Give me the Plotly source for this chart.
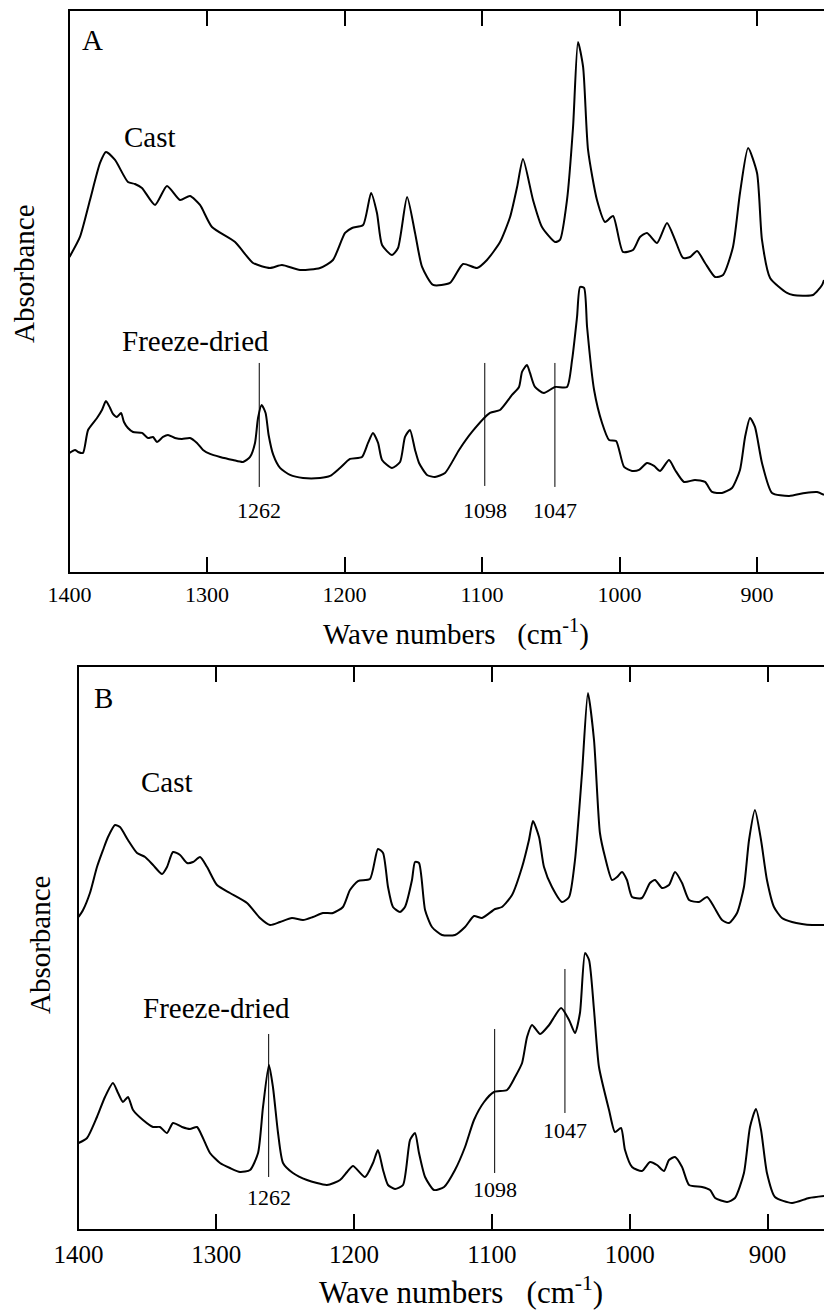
import plotly.graph_objects as go

# ---------------- Panel A data (wavenumber cm-1, absorbance a.u.) ----------------
a_cast_wn = [1400.0, 1392.4, 1385.1, 1377.8, 1373.5, 1366.9, 1357.5, 1352.4, 1347.3, 1337.8,
             1329.1, 1319.6, 1312.4, 1305.1, 1296.4, 1279.6, 1266.5, 1254.2, 1245.5, 1232.4,
             1217.8, 1208.4, 1199.6, 1194.5, 1186.5, 1180.7, 1176.4, 1172.7, 1165.5, 1161.1,
             1154.5, 1148.7, 1143.6, 1135.6, 1123.3, 1113.8, 1103.6, 1096.4, 1086.9, 1079.6,
             1074.5, 1070.2, 1062.9, 1056.4, 1046.9, 1043.3, 1038.2, 1033.8, 1030.2, 1026.5,
             1022.9, 1016.4, 1010.5, 1004.7, 997.5, 990.2, 985.1, 980.0, 972.7, 965.5,
             959.6, 953.8, 948.7, 943.6, 937.8, 930.5, 924.7, 917.5, 912.4, 906.5,
             900.0, 896.4, 890.5, 878.2, 873.8, 859.3, 852.7, 851.3]
a_cast_abs = [3.15, 3.35, 3.72, 4.09, 4.20, 4.12, 3.90, 3.88, 3.84, 3.67,
              3.86, 3.72, 3.76, 3.67, 3.45, 3.30, 3.09, 3.04, 3.07, 3.02,
              3.04, 3.12, 3.39, 3.44, 3.47, 3.79, 3.59, 3.27, 3.17, 3.24,
              3.75, 3.39, 3.05, 2.87, 2.89, 3.08, 3.04, 3.12, 3.30, 3.55,
              3.85, 4.13, 3.72, 3.45, 3.30, 3.32, 3.72, 4.45, 5.30, 5.05,
              4.22, 3.72, 3.50, 3.56, 3.20, 3.22, 3.35, 3.39, 3.29, 3.49,
              3.32, 3.14, 3.15, 3.21, 3.09, 2.95, 2.97, 3.25, 3.79, 4.24,
              3.99, 3.32, 2.94, 2.79, 2.77, 2.77, 2.87, 2.92]

a_fd_wn = [1400.0, 1396.0, 1393.8, 1390.2, 1386.5, 1380.0, 1376.4, 1373.5, 1370.5, 1368.4,
           1365.5, 1362.5, 1360.4, 1357.5, 1353.8, 1347.3, 1342.9, 1339.3, 1336.4, 1332.0,
           1328.4, 1323.3, 1318.2, 1312.4, 1307.3, 1302.9, 1297.8, 1290.5, 1281.1, 1273.8,
           1268.7, 1265.1, 1262.9, 1260.3, 1257.4, 1255.2, 1251.8, 1246.9, 1239.6, 1230.2,
           1217.8, 1210.5, 1203.3, 1196.0, 1187.3, 1182.9, 1179.3, 1175.6, 1172.7, 1165.5,
           1159.6, 1156.0, 1152.4, 1148.7, 1145.8, 1140.0, 1134.2, 1126.9, 1116.7, 1107.3,
           1094.2, 1086.9, 1078.2, 1073.1, 1070.9, 1067.3, 1065.1, 1061.5, 1055.0, 1046.9,
           1038.2, 1034.5, 1030.9, 1028.7, 1025.8, 1023.6, 1018.5, 1012.7, 1007.6, 1002.5,
           996.7, 990.9, 985.8, 980.0, 974.9, 970.5, 964.0, 959.6, 953.1, 945.1,
           937.8, 932.7, 925.5, 918.2, 912.4, 908.7, 905.1, 901.5, 896.4, 889.1,
           876.7, 865.1, 856.4, 851.3]
a_fd_abs = [1.19, 1.22, 1.20, 1.19, 1.42, 1.54, 1.62, 1.71, 1.64, 1.58,
            1.55, 1.59, 1.50, 1.44, 1.40, 1.39, 1.34, 1.35, 1.30, 1.35,
            1.37, 1.34, 1.33, 1.34, 1.29, 1.22, 1.18, 1.15, 1.12, 1.10,
            1.15, 1.29, 1.54, 1.67, 1.59, 1.37, 1.17, 1.04, 0.97, 0.94,
            0.94, 0.96, 1.04, 1.13, 1.15, 1.29, 1.39, 1.29, 1.12, 1.04,
            1.10, 1.35, 1.42, 1.22, 1.09, 0.97, 0.95, 0.99, 1.22, 1.40,
            1.59, 1.62, 1.77, 1.85, 2.00, 2.07, 1.99, 1.85, 1.79, 1.85,
            1.85, 2.12, 2.55, 2.85, 2.84, 2.45, 1.82, 1.49, 1.32, 1.31,
            1.05, 1.01, 1.02, 1.09, 1.06, 1.01, 1.12, 1.02, 0.90, 0.92,
            0.90, 0.80, 0.79, 0.84, 1.02, 1.35, 1.54, 1.45, 1.09, 0.79,
            0.76, 0.79, 0.80, 0.77]

# ---------------- Panel B data ----------------
b_cast_wn = [1400.0, 1396.7, 1391.7, 1386.6, 1382.2, 1378.6, 1373.5, 1369.9, 1364.1, 1357.5,
             1351.7, 1345.9, 1339.4, 1335.8, 1331.4, 1326.3, 1321.2, 1316.9, 1311.8, 1306.7,
             1299.5, 1290.1, 1277.7, 1268.3, 1261.0, 1253.8, 1245.1, 1237.1, 1229.9, 1222.6,
             1215.3, 1208.1, 1203.0, 1197.2, 1188.5, 1182.7, 1179.0, 1175.4, 1171.8, 1166.7,
             1163.1, 1158.0, 1155.8, 1152.9, 1148.5, 1143.5, 1136.2, 1126.8, 1119.5, 1113.0,
             1107.2, 1097.7, 1092.7, 1085.4, 1078.1, 1073.1, 1070.2, 1065.8, 1062.2, 1056.4,
             1049.1, 1044.0, 1039.7, 1034.6, 1030.3, 1025.9, 1021.6, 1017.9, 1012.8, 1009.2,
             1005.6, 1002.0, 998.3, 991.1, 985.3, 981.6, 976.5, 971.5, 967.1, 962.0,
             956.9, 949.7, 943.8, 938.8, 933.0, 927.9, 922.1, 917.1, 913.4, 909.1,
             904.7, 900.4, 895.3, 889.5, 882.2, 875.0, 867.7, 859.0]
b_cast_abs = [3.12, 3.19, 3.36, 3.62, 3.79, 3.92, 4.04, 4.02, 3.89, 3.76,
              3.72, 3.64, 3.55, 3.62, 3.77, 3.74, 3.66, 3.67, 3.72, 3.62,
              3.44, 3.36, 3.26, 3.11, 3.04, 3.07, 3.11, 3.09, 3.12, 3.16,
              3.16, 3.22, 3.39, 3.48, 3.50, 3.80, 3.76, 3.42, 3.22, 3.17,
              3.22, 3.49, 3.67, 3.66, 3.19, 3.02, 2.94, 2.94, 3.02, 3.13,
              3.11, 3.20, 3.22, 3.34, 3.62, 3.89, 4.08, 3.92, 3.62, 3.42,
              3.27, 3.32, 3.69, 4.56, 5.36, 4.89, 3.96, 3.72, 3.49, 3.52,
              3.57, 3.49, 3.32, 3.31, 3.46, 3.49, 3.41, 3.44, 3.57, 3.46,
              3.29, 3.27, 3.32, 3.22, 3.09, 3.06, 3.16, 3.42, 3.89, 4.19,
              3.89, 3.49, 3.22, 3.11, 3.07, 3.05, 3.04, 3.04]

b_fd_wn = [1400.0, 1393.8, 1386.6, 1380.8, 1375.0, 1371.3, 1367.7, 1364.1, 1360.4, 1353.2,
           1345.9, 1340.9, 1335.8, 1331.4, 1324.9, 1319.1, 1314.0, 1309.7, 1304.6, 1297.3,
           1290.1, 1282.8, 1275.5, 1269.7, 1266.1, 1261.8, 1258.9, 1255.2, 1251.6, 1244.4,
           1234.2, 1219.7, 1210.2, 1205.1, 1200.8, 1192.1, 1186.3, 1182.7, 1179.0, 1175.4,
           1170.3, 1164.5, 1159.4, 1155.8, 1152.9, 1148.5, 1142.0, 1134.7, 1126.8, 1119.5,
           1113.0, 1105.7, 1098.5, 1089.0, 1083.2, 1078.1, 1074.5, 1070.9, 1065.0, 1058.5,
           1049.8, 1044.0, 1039.7, 1036.1, 1032.4, 1029.5, 1025.9, 1022.3, 1015.0, 1010.7,
           1006.3, 1003.4, 998.3, 991.1, 985.3, 980.2, 975.1, 971.5, 967.1, 962.0,
           956.9, 947.5, 941.7, 938.0, 929.3, 923.6, 917.1, 912.7, 908.4, 904.7,
           900.4, 894.6, 882.2, 869.9, 859.0]
b_fd_abs = [0.86, 0.91, 1.12, 1.32, 1.46, 1.36, 1.27, 1.32, 1.19, 1.09,
            1.02, 1.02, 0.96, 1.06, 1.02, 1.00, 1.02, 0.91, 0.76, 0.66,
            0.61, 0.57, 0.59, 0.76, 1.22, 1.64, 1.42, 0.96, 0.66, 0.56,
            0.49, 0.44, 0.49, 0.57, 0.63, 0.52, 0.66, 0.79, 0.59, 0.44,
            0.40, 0.44, 0.89, 0.96, 0.76, 0.52, 0.39, 0.42, 0.59, 0.82,
            1.09, 1.27, 1.37, 1.39, 1.52, 1.66, 1.92, 2.04, 1.95, 2.04,
            2.21, 2.09, 1.96, 2.16, 2.76, 2.69, 2.19, 1.62, 1.19, 0.97,
            1.01, 0.79, 0.62, 0.58, 0.67, 0.64, 0.58, 0.69, 0.72, 0.62,
            0.44, 0.42, 0.39, 0.31, 0.27, 0.31, 0.56, 1.02, 1.20, 0.99,
            0.56, 0.32, 0.26, 0.31, 0.33]

# ---------------- Band markers ----------------
marker_wn = [1262, 1098, 1047]
marker_labels = ["1262", "1098", "1047"]
a_marker_low = [0.85, 0.86, 0.85]
a_marker_high = [2.09, 2.09, 2.09]
a_marker_label_y = [0.61, 0.61, 0.61]
b_marker_low = [0.52, 0.56, 1.16]
b_marker_high = [1.95, 2.00, 2.60]
b_marker_label_y = [0.31, 0.39, 0.98]

tick_vals = [1400, 1300, 1200, 1100, 1000, 900]
tick_text = ["1400", "1300", "1200", "1100", "1000", "900"]

FONT = "Liberation Serif, Times New Roman, serif"
INK = "black"

fig = go.Figure()

def add_curve(x, y, xa, ya):
    fig.add_trace(go.Scatter(x=x, y=y, mode="lines", xaxis=xa, yaxis=ya,
                             line=dict(color=INK, width=2, shape="spline", smoothing=0.6),
                             hoverinfo="skip", showlegend=False))

add_curve(a_cast_wn, a_cast_abs, "x", "y")
add_curve(a_fd_wn, a_fd_abs, "x", "y")
add_curve(b_cast_wn, b_cast_abs, "x2", "y2")
add_curve(b_fd_wn, b_fd_abs, "x2", "y2")

for wn, lo, hi in zip(marker_wn, a_marker_low, a_marker_high):
    fig.add_trace(go.Scatter(x=[wn, wn], y=[lo, hi], mode="lines", xaxis="x", yaxis="y",
                             line=dict(color=INK, width=1), hoverinfo="skip", showlegend=False))
for wn, lo, hi in zip(marker_wn, b_marker_low, b_marker_high):
    fig.add_trace(go.Scatter(x=[wn, wn], y=[lo, hi], mode="lines", xaxis="x2", yaxis="y2",
                             line=dict(color=INK, width=1), hoverinfo="skip", showlegend=False))

annotations = []

def label(x, y, xr, yr, text, size, angle=0):
    annotations.append(dict(x=x, y=y, xref=xr, yref=yr, text=text, showarrow=False,
                            xanchor="center", yanchor="middle", textangle=angle,
                            font=dict(family=FONT, size=size, color=INK)))

for wn, lab, ly in zip(marker_wn, marker_labels, a_marker_label_y):
    label(wn, ly, "x", "y", lab, 22)
for wn, lab, ly in zip(marker_wn, marker_labels, b_marker_label_y):
    label(wn, ly, "x2", "y2", lab, 22)

label(1383.6, 5.32, "x", "y", "A", 29)
label(1341.5, 4.35, "x", "y", "Cast", 29)
label(1308.7, 2.31, "x", "y", "Freeze-dried", 29)
label(1381.5, 5.31, "x2", "y2", "B", 29)
label(1335.8, 4.47, "x2", "y2", "Cast", 29)
label(1300.2, 2.21, "x2", "y2", "Freeze-dried", 29)
label(0.0291, 0.7921, "paper", "paper", "Absorbance", 29, -90)
label(0.0485, 0.2810, "paper", "paper", "Absorbance", 29, -90)
label(0.5534, 0.5180, "paper", "paper", "Wave numbers   (cm<sup>-1</sup>)", 29)
label(0.5595, 0.0175, "paper", "paper", "Wave numbers   (cm<sup>-1</sup>)", 31)

def xaxis_cfg(domain, rng, size):
    return dict(domain=domain, range=rng, tickmode="array", tickvals=tick_vals,
                ticktext=tick_text, ticks="inside", ticklen=15, tickwidth=1.5,
                tickcolor=INK, showline=True, linecolor=INK, linewidth=2,
                mirror="ticks", showgrid=False, zeroline=False, automargin=False,
                ticklabelstandoff=2,
                tickfont=dict(family=FONT, size=size, color=INK))

def yaxis_cfg(domain, rng, anchor):
    return dict(domain=domain, range=rng, anchor=anchor, showline=True, linecolor=INK,
                linewidth=2, mirror=False, showticklabels=False, ticks="",
                showgrid=False, zeroline=False, automargin=False)

fig.update_layout(
    width=824, height=1313,
    margin=dict(l=0, r=0, t=0, b=0, autoexpand=False),
    paper_bgcolor="white", plot_bgcolor="white",
    xaxis=dict(**xaxis_cfg([0.08435, 1.0], [1400, 851.3], 22), anchor="y"),
    yaxis=yaxis_cfg([0.5644, 0.99162], [0, 5.61], "x"),
    xaxis2=dict(**xaxis_cfg([0.09527, 1.0], [1400, 859.0], 25), anchor="y2"),
    yaxis2=yaxis_cfg([0.06398, 0.49200], [0, 5.62], "x2"),
    annotations=annotations,
    showlegend=False,
)

fig.write_html("out.html", config={"displayModeBar": False},
               post_script="document.body.style.margin='0';document.body.style.overflow='hidden';")
